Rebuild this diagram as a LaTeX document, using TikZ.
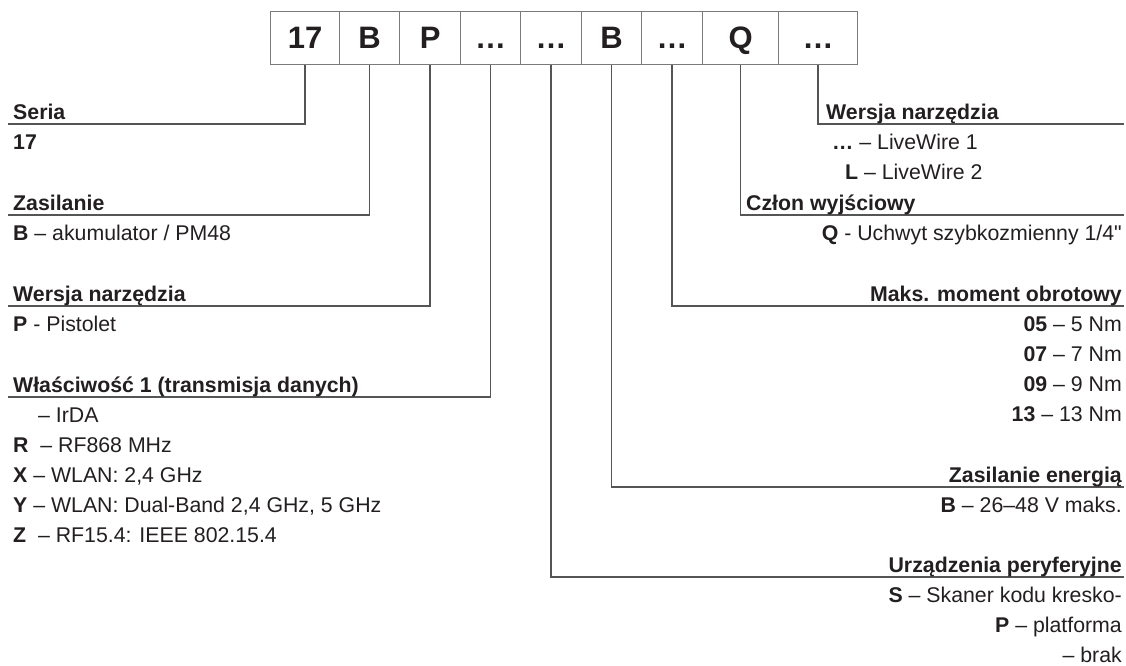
\documentclass[tikz,border=0pt]{standalone}
\usepackage{fontspec}
\setmainfont{Liberation Sans}[Ligatures=TeXOff]
\definecolor{txt}{HTML}{231F20}
\definecolor{boxline}{HTML}{7A7A7A}
\definecolor{connline}{HTML}{555555}
\begin{document}
\begin{tikzpicture}[x=1pt,y=-1pt,
  codebox/.style={draw=boxline, line width=1.2pt, minimum height=53.5pt, inner sep=0pt,
    text height=22.2pt, text depth=0pt,
    font=\fontsize{31}{33}\selectfont\bfseries, text=txt, anchor=north west},
  hdr/.style={anchor=base west, inner sep=0pt, font=\fontsize{21.3}{25}\selectfont\bfseries, text=txt},
  item/.style={anchor=base west, inner sep=0pt, font=\fontsize{21.3}{25}\selectfont, text=txt},
  hdrR/.style={hdr, anchor=base east},
  itemR/.style={item, anchor=base east},
  conn/.style={draw=connline, line width=1.3pt}]
\useasboundingbox (0,0) rectangle (1126,665);

% code boxes
\node[codebox, minimum width=69pt] (b1) at (270,10.5) {17};
\node[codebox, minimum width=60pt] (b2) at (339,10.5) {B};
\node[codebox, minimum width=61pt] (b3) at (399,10.5) {P};
\node[codebox, minimum width=60pt] (b4) at (460,10.5) {…};
\node[codebox, minimum width=61pt] (b5) at (520,10.5) {…};
\node[codebox, minimum width=60pt] (b6) at (581,10.5) {B};
\node[codebox, minimum width=61pt] (b7) at (641,10.5) {…};
\node[codebox, minimum width=76pt] (b8) at (702,10.5) {Q};
\node[codebox, minimum width=79pt] (b9) at (778,10.5) {…};

% line ends
\coordinate (l1) at (8,124);
\coordinate (l2) at (8,215);
\coordinate (l3) at (8,306);
\coordinate (l4) at (8,397);
\coordinate (r1) at (1124,124);
\coordinate (r2) at (1124,215);
\coordinate (r3) at (1124,306);
\coordinate (r4) at (1124,487);
\coordinate (r5) at (1124,577);

\draw[conn] (b1.south) |- (l1);
\draw[conn] (b2.south) |- (l2);
\draw[conn] (b3.south) |- (l3);
\draw[conn] (b4.south) |- (l4);
\draw[conn] (b5.south) |- (r5);
\draw[conn] (b6.south) |- (r4);
\draw[conn] (b7.south) |- (r3);
\draw[conn] (b8.south) |- (r2);
\draw[conn] (b9.south) |- (r1);

% left texts
\node[hdr] (h1) at (13,119) {Seria};
\node[hdr] (h1a) at (13,149) {17};
\node[hdr] (h2) at (13,210) {Zasilanie};
\node[item] (h2a) at (13,240) {\textbf{B} – akumulator / PM48};
\node[hdr] (h3) at (13,301) {Wersja narzędzia};
\node[item] (h3a) at (13,331) {\textbf{P} - Pistolet};
\node[hdr] (h4) at (13,392) {Właściwość 1 (transmisja danych)};
\node[item] (h4a) at (38,422) {– IrDA};
\node[item] (h4b) at (13,452) {\textbf{R}\ \ – RF868 MHz};
\node[item] (h4c) at (13,482) {\textbf{X} – WLAN: 2,4 GHz};
\node[item] (h4d) at (13,512) {\textbf{Y} – WLAN: Dual-Band 2,4 GHz, 5 GHz};
\node[item] (h4e) at (13,542) {\textbf{Z}\ \ – RF15.4: IEEE 802.15.4};

% right texts
\node[hdr] (g1) at (826,119) {Wersja narzędzia};
\node[item] (g1a) at (832,149) {\textbf{…} – LiveWire 1};
\node[item] (g1b) at (845,179) {\textbf{L} – LiveWire 2};
\node[hdr] (g2) at (746,210) {Człon wyjściowy};
\node[itemR] (g2a) at (1122,240) {\textbf{Q} - Uchwyt szybkozmienny 1/4"};
\node[hdrR] (g3) at (1122,301) {Maks. moment obrotowy};
\node[itemR] (g3a) at (1122,331) {\textbf{05} – 5 Nm};
\node[itemR] (g3b) at (1122,361) {\textbf{07} – 7 Nm};
\node[itemR] (g3c) at (1122,391) {\textbf{09} – 9 Nm};
\node[itemR] (g3d) at (1122,421) {\textbf{13} – 13 Nm};
\node[hdrR] (g4) at (1122,482) {Zasilanie energią};
\node[itemR] (g4a) at (1122,512) {\textbf{B} – 26–48 V maks.};
\node[hdrR] (g5) at (1122,572) {Urządzenia peryferyjne};
\node[itemR] (g5a) at (1122,602) {\textbf{S} – Skaner kodu kresko-};
\node[itemR] (g5b) at (1122,632) {\textbf{P} – platforma};
\node[itemR] (g5c) at (1122,662) {– brak};
\end{tikzpicture}
\end{document}
